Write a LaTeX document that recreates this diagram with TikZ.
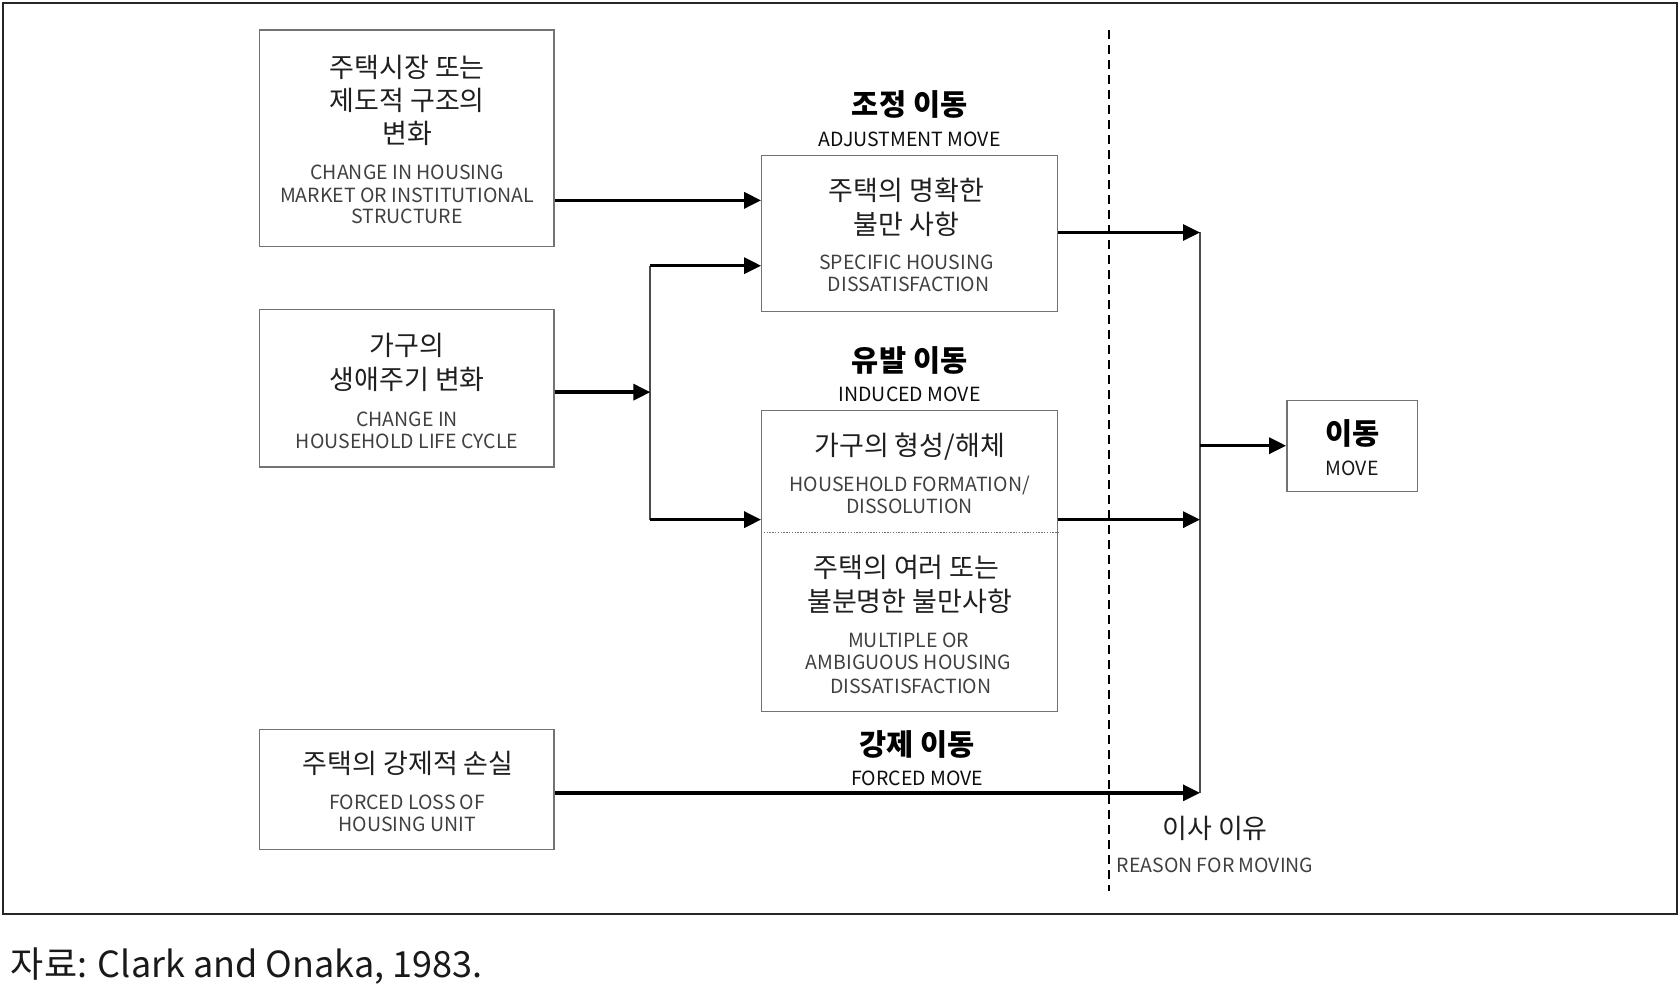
\documentclass[tikz,border=0pt]{standalone}
\usepackage{fontspec}
\setmainfont{Noto Sans CJK KR}
\usetikzlibrary{arrows.meta,fit}
\begin{document}
\begin{tikzpicture}[x=1.0714pt,y=-1.0714pt,
  box/.style={draw=black!55, line width=1.4pt, inner sep=0pt},
  kr/.style={anchor=base, inner sep=0pt, yshift=-2.1pt, text=black!88, font=\fontsize{27}{30}\selectfont},
  en/.style={anchor=base, inner sep=0pt, yshift=-2.1pt, text=black!75, font=\fontsize{19.5}{22}\selectfont},
  ttl/.style={anchor=base, inner sep=0pt, yshift=-2.1pt, text=black, font=\fontsize{29.5}{32}\selectfont\bfseries},
  ttlen/.style={anchor=base, inner sep=0pt, yshift=-2.1pt, text=black!95, font=\fontsize{19.5}{22}\selectfont},
  arr/.style={draw=black, line width=3.3pt, -{Triangle[length=17pt,width=16pt]}},
  jl/.style={draw=black!70, line width=2pt},
  sepline/.style={draw=black!55, line width=1.3pt, dash pattern=on 1.4pt off 1.4pt},
  dline/.style={draw=black, line width=2pt, dash pattern=on 9pt off 6pt}]
\useasboundingbox (0,0) rectangle (1568,918.4);
% outer frame
\draw[draw=black!85, line width=2pt] (3,3) rectangle (1565,853);
% boxes
\node[box, fit={(242,28) (517,230)}] (A) {};
\node[box, fit={(242,289) (517,436)}] (B) {};
\node[box, fit={(242,681) (517,793)}] (C) {};
\node[box, fit={(711,145) (987,291)}] (D) {};
\node[box, fit={(711,383) (987,664)}] (E) {};
\node[box, fit={(1201,374) (1323,459)}] (F) {};
% box A text
\node[kr] (a1) at (380,70) {주택시장 또는};
\node[kr] (a2) at (380,101) {제도적 구조의};
\node[kr] (a3) at (380,132) {변화};
\node[en] (a4) at (380,166) {CHANGE IN HOUSING};
\node[en] (a5) at (380,187) {MARKET OR INSTITUTIONAL};
\node[en] (a6) at (380,207) {STRUCTURE};
% box B text
\node[kr] (b1) at (380,330) {가구의};
\node[kr] (b2) at (380,362) {생애주기 변화};
\node[en] (b3) at (380,396) {CHANGE IN};
\node[en] (b4) at (380,417) {HOUSEHOLD LIFE CYCLE};
% box C text
\node[kr] (c1) at (381,720) {주택의 강제적 손실};
\node[en] (c2) at (380,754) {FORCED LOSS OF};
\node[en] (c3) at (380,774) {HOUSING UNIT};
% box D text
\node[kr] (d1) at (846,185) {주택의 명확한};
\node[kr] (d2) at (846,217) {불만 사항};
\node[en] (d3) at (846,250) {SPECIFIC HOUSING};
\node[en] (d4) at (848,270) {DISSATISFACTION};
% box E text
\node[kr] (e1) at (849,423) {가구의 형성/해체};
\node[en] (e2) at (849,457) {HOUSEHOLD FORMATION/};
\node[en] (e3) at (849,477) {DISSOLUTION};
\node[kr] (e4) at (846,537) {주택의 여러 또는};
\node[kr] (e5) at (849,569) {불분명한 불만사항};
\node[en] (e6) at (848,602) {MULTIPLE OR};
\node[en] (e7) at (848,623) {AMBIGUOUS HOUSING};
\node[en] (e8) at (850,645) {DISSATISFACTION};
\draw[sepline] (E.west |- 0,497) -- (E.east |- 0,497);
% box F text
\node[ttl] (f1) at (1262,413) {이동};
\node[en, text=black!90] (f2) at (1262,442) {MOVE};
% titles
\node[ttl] (t1) at (849,106) {조정 이동};
\node[ttlen] (t2) at (849,135) {ADJUSTMENT MOVE};
\node[ttl] (t3) at (849,345) {유발 이동};
\node[ttlen] (t4) at (849,373) {INDUCED MOVE};
\node[ttl] (t5) at (856,703) {강제 이동};
\node[ttlen] (t6) at (856,731) {FORCED MOVE};
\node[kr] (r1t) at (1134,781) {이사 이유};
\node[en] (r2t) at (1134,812) {REASON FOR MOVING};
% dashed divider
\coordinate (dtop) at (1035,28);
\coordinate (dbot) at (1035,832);
\draw[dline] (dtop) -- (dbot);
% left junction
\coordinate (jB) at (607,366);
\coordinate (s1) at (607,248);
\coordinate (s2) at (607,485);
\draw[jl] (s1) -- (s2);
\draw[arr] (A.east |- 0,187) -- (D.west |- 0,187);
\draw[arr] (B.east |- jB) -- (jB);
\draw[arr] (s1) -- (D.west |- s1);
\draw[arr] (s2) -- (E.west |- s2);
% right junction
\coordinate (r1) at (1120,217);
\coordinate (r2) at (1120,485);
\coordinate (r3) at (1120,740);
\coordinate (rm) at (1120,416);
\draw[jl] (r1) -- (r3);
\draw[arr] (D.east |- r1) -- (r1);
\draw[arr] (E.east |- r2) -- (r2);
\draw[arr] (C.east |- r3) -- (r3);
\draw[arr] (rm) -- (F.west |- rm);
% caption
\node[anchor=base west, inner sep=0pt, text=black!90, font=\fontsize{36}{40}\selectfont] (cap) at (10,912) {자료: Clark and Onaka, 1983.};
\end{tikzpicture}
\end{document}
